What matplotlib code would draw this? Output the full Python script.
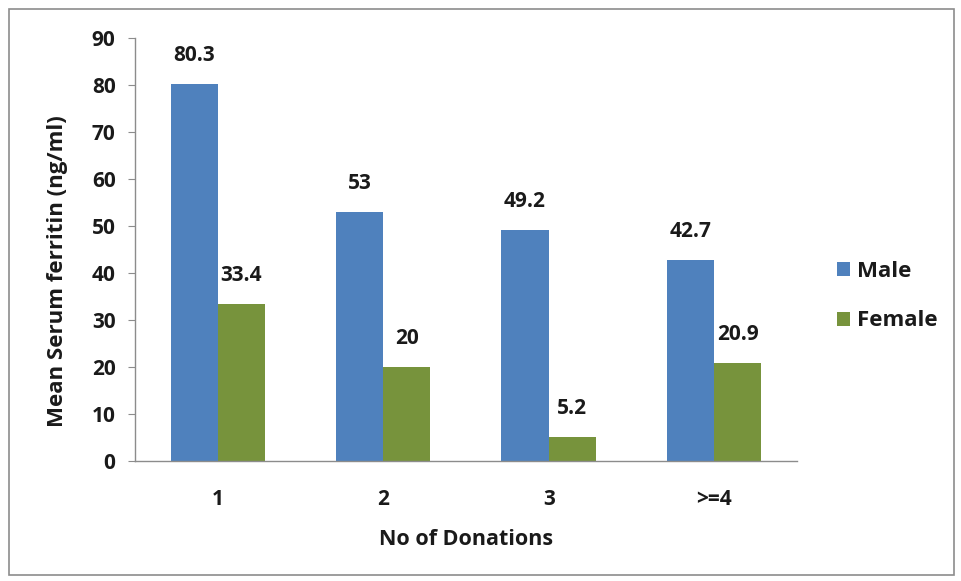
import numpy as np
import matplotlib.pyplot as plt
from matplotlib.patches import Rectangle

donations = ['1', '2', '3', '>=4']
male = [80.3, 53, 49.2, 42.7]
female = [33.4, 20, 5.2, 20.9]
male_labels = ['80.3', '53', '49.2', '42.7']
female_labels = ['33.4', '20', '5.2', '20.9']

plt.rcParams['font.family'] = ['Open Sans', 'DejaVu Sans']
plt.rcParams['font.weight'] = 'bold'

fig = plt.figure(figsize=(9.62, 5.81), dpi=100)
ax = fig.add_axes([0.1403, 0.2065, 0.688, 0.7281])

# outer frame round the whole chart
fig.patches.append(Rectangle((0.009, 0.01), 0.983, 0.975, transform=fig.transFigure,
                             fill=False, edgecolor='#8c8c8c', linewidth=1.2))

x = np.arange(len(donations))
w = 0.285
blue = '#4F81BD'
green = '#77933C'
ink = '#1a1a1a'
fs = 15
b1 = ax.bar(x - w / 2, male, w, color=blue, label='Male')
b2 = ax.bar(x + w / 2, female, w, color=green, label='Female')

for bars, labels in ((b1, male_labels), (b2, female_labels)):
    for rect, txt in zip(bars, labels):
        ax.text(rect.get_x() + rect.get_width() / 2, rect.get_height() + 3.8, txt,
                ha='center', va='bottom', fontsize=fs, fontweight='bold', color=ink)

ax.set_xlim(-0.5, 3.5)
ax.set_ylim(0, 90)
ax.set_yticks(range(0, 91, 10))
ax.set_xticks(x)
ax.set_xticklabels(donations)
ax.tick_params(axis='y', length=5, color='#8c8c8c', labelsize=fs, pad=9)
ax.tick_params(axis='x', length=0, labelsize=fs, pad=20)
for lab in ax.get_xticklabels() + ax.get_yticklabels():
    lab.set_fontweight('bold')
    lab.set_color(ink)

for s in ['top', 'right']:
    ax.spines[s].set_visible(False)
for s in ['left', 'bottom']:
    ax.spines[s].set_color('#8c8c8c')
    ax.spines[s].set_linewidth(1.0)

ax.set_ylabel('Mean Serum ferritin (ng/ml)', fontsize=16, fontweight='bold', color=ink)
ax.yaxis.set_label_coords(-0.101, 0.45)
ax.set_xlabel('No of Donations', fontsize=15.5, fontweight='bold', color=ink, labelpad=14)

leg = ax.legend(loc='center left', bbox_to_anchor=(1.03, 0.39), frameon=False,
                fontsize=16, handlelength=0.6, handleheight=0.6, labelspacing=1.3,
                handletextpad=0.3)
for t in leg.get_texts():
    t.set_fontweight('bold')
    t.set_color(ink)

fig.savefig('out.png', dpi=100)
